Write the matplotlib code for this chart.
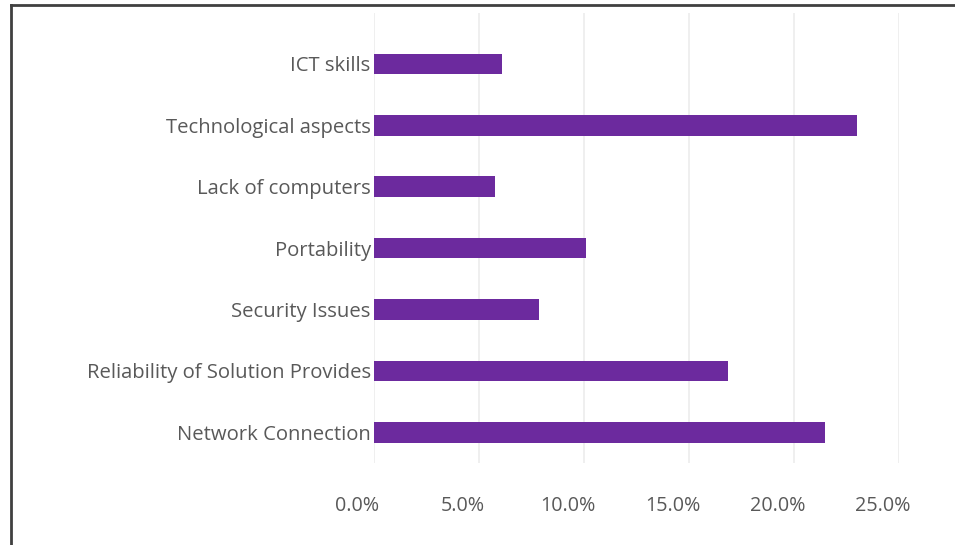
import matplotlib
matplotlib.use("Agg")
import matplotlib.pyplot as plt
import matplotlib.transforms as mtransforms
from matplotlib.lines import Line2D
from matplotlib.ticker import PercentFormatter

# data (bottom to top, as the chart draws it)
categories = ["Network Connection", "Reliability of Solution Provides", "Security Issues",
              "Portability", "Lack of computers", "Technological aspects", "ICT skills"]
values = [21.5, 16.9, 7.9, 10.1, 5.8, 23.0, 6.1]
xticks = [0, 5, 10, 15, 20, 25]

plt.rcParams['font.family'] = ['Open Sans', 'DejaVu Sans']

fig = plt.figure(figsize=(9.55, 5.45), dpi=100)
fig.patch.set_facecolor('white')
ax = fig.add_axes([373.5 / 955, 1 - 463 / 545, 525 / 955, 450 / 545])

ypos = list(range(len(categories)))
ax.barh(ypos, values, height=0.335, color='#6c2a9e', zorder=3)

ax.set_xlim(0, 25)
ax.set_ylim(-0.5, 6.83)
ax.set_xticks(xticks)
ax.xaxis.set_major_formatter(PercentFormatter(decimals=1))
ax.set_yticks(ypos)
ax.set_yticklabels(categories)

ax.grid(axis='x', color='#ececec', linewidth=1.2, zorder=0)
for s in ax.spines.values():
    s.set_visible(False)
ax.tick_params(axis='y', length=0, colors='#595959', labelsize=14.6, pad=2)
ax.tick_params(axis='x', length=0, colors='#595959', labelsize=14.2, pad=24)

# excel-ish offset of x labels
offset = mtransforms.ScaledTranslation(-16 / 100, 0, fig.dpi_scale_trans)
for lbl in ax.get_xticklabels():
    lbl.set_transform(lbl.get_transform() + offset)

# frame of the screenshot (top and left only)
fig.add_artist(Line2D([11 / 955, 11 / 955], [0, 1 - 5 / 545], transform=fig.transFigure,
                      color='#404040', linewidth=2))
fig.add_artist(Line2D([11 / 955, 1], [1 - 5 / 545, 1 - 5 / 545], transform=fig.transFigure,
                      color='#404040', linewidth=2))

fig.savefig('out.png', dpi=100, facecolor='white')
